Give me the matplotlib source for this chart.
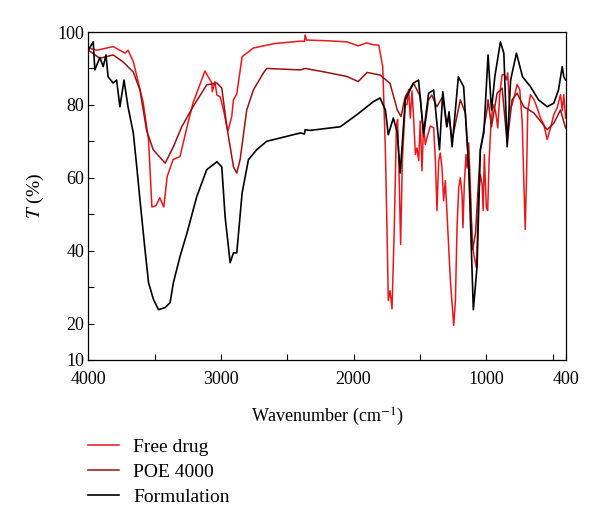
import matplotlib
matplotlib.use("Agg")
import matplotlib.pyplot as plt
import numpy as np

# FTIR spectra (wavenumber in cm-1, transmittance in %)
free_wn = [4000, 3935, 3812, 3722, 3700, 3660, 3585, 3545, 3520, 3490, 3460, 3430, 3405,
           3360, 3308, 3255, 3210, 3120, 3068, 3065, 3045, 3030, 3005, 2980, 2955, 2945,
           2918, 2905, 2880, 2840, 2755, 2600, 2400, 2370, 2365, 2355, 2200, 2050, 1965,
           1900, 1850, 1810, 1780, 1760, 1748, 1738, 1725, 1710, 1693, 1677, 1668, 1656,
           1645, 1632, 1610, 1597, 1585, 1572, 1559, 1547, 1534, 1522, 1509, 1497, 1484,
           1472, 1459, 1446, 1421, 1396, 1383, 1371, 1358, 1346, 1333, 1321, 1308, 1295,
           1270, 1245, 1232, 1220, 1207, 1195, 1182, 1175, 1165, 1152, 1144, 1132, 1119,
           1107, 1094, 1074, 1057, 1044, 1031, 1023, 1014, 999, 989, 978, 963, 948, 930,
           913, 898, 880, 863, 847, 838, 823, 805, 785, 767, 747, 729, 717, 706, 696, 687,
           666, 641, 616, 591, 566, 540, 515, 490, 465, 440, 427, 415, 402]
free_t = [95.6, 95.0, 96.0, 94.2, 95.0, 91.9, 80.5, 70.4, 52.0, 52.3, 54.5, 52.0, 60.3,
          65.0, 65.8, 74.0, 80.5, 89.3, 86.0, 83.6, 86.4, 82.7, 82.2, 78.6, 74.0, 73.0,
          76.8, 81.4, 83.0, 93.2, 95.6, 96.8, 97.5, 97.4, 99.2, 97.8, 97.6, 97.3, 96.2,
          97.0, 96.5, 96.4, 90.5, 67.7, 46.3, 26.3, 29.0, 24.0, 46.0, 73.7, 76.0, 60.0,
          41.7, 64.7, 80.1, 80.1, 84.2, 76.4, 83.8, 76.4, 66.4, 68.2, 64.7, 75.6, 61.9,
          74.6, 69.1, 71.0, 74.2, 73.7, 64.7, 51.0, 64.7, 66.8, 62.7, 53.7, 59.2, 50.0,
          31.8, 19.5, 26.3, 46.3, 57.3, 60.0, 55.4, 46.3, 58.2, 66.4, 62.7, 69.6, 57.3,
          42.7, 39.0, 35.3, 55.4, 60.9, 58.2, 51.0, 66.4, 51.8, 51.0, 64.7, 75.6, 80.1, 78.4,
          73.7, 82.8, 88.3, 88.3, 86.9, 88.8, 78.4, 80.1, 82.8, 85.6, 84.2, 75.6, 60.0, 45.8,
          60.0, 78.4, 82.8, 81.5, 79.2, 76.4, 74.6, 70.5, 73.7, 77.4, 79.2, 82.8, 78.4, 82.8,
          76.4]

poe_wn = [4000, 3912, 3812, 3737, 3660, 3610, 3560, 3510, 3420, 3358, 3295, 3210, 3107,
          3030, 2993, 2955, 2905, 2880, 2855, 2805, 2755, 2680, 2655, 2400, 2365, 2228,
          2050, 1965, 1897, 1800, 1725, 1670, 1642, 1610, 1548, 1497, 1472, 1435, 1410,
          1372, 1327, 1297, 1280, 1257, 1195, 1157, 1132, 1102, 1080, 1044, 994, 986, 960,
          918, 880, 842, 805, 767, 717, 641, 540, 490, 440, 402]
poe_t = [95.0, 92.8, 93.7, 91.8, 89.0, 84.1, 73.0, 67.7, 64.0, 68.5, 74.0, 79.5, 85.5,
         86.0, 84.6, 74.0, 63.0, 61.3, 65.0, 78.6, 84.1, 88.7, 90.0, 89.6, 90.0, 89.1,
         87.8, 86.4, 88.9, 88.2, 85.9, 78.6, 76.8, 82.3, 86.0, 82.3, 71.3, 81.4, 82.7,
         79.5, 82.3, 74.0, 76.8, 70.4, 81.4, 77.8, 64.0, 40.3, 45.0, 67.7, 78.6, 81.4, 74.0,
         83.2, 84.6, 69.6, 81.4, 83.2, 79.5, 77.8, 73.2, 75.0, 78.6, 73.7]

form_wn = [4000, 3962, 3950, 3912, 3887, 3866, 3850, 3812, 3786, 3761, 3730, 3700, 3660,
           3634, 3610, 3572, 3545, 3508, 3470, 3420, 3383, 3358, 3308, 3255, 3182, 3107,
           3030, 2993, 2968, 2930, 2905, 2880, 2840, 2792, 2730, 2655, 2400, 2370, 2365,
           2327, 2100, 1975, 1850, 1800, 1760, 1738, 1700, 1670, 1648, 1610, 1548, 1510,
           1472, 1434, 1396, 1352, 1327, 1297, 1280, 1257, 1210, 1170, 1132, 1097, 1069,
           1044, 1018, 986, 960, 935, 893, 867, 842, 816, 772, 726, 666, 606, 540, 490, 455,
           427, 415, 402]
form_t = [95.0, 97.3, 89.6, 93.0, 90.5, 93.7, 87.7, 86.0, 86.8, 79.5, 86.8, 79.5, 72.3,
          63.0, 54.0, 40.3, 31.2, 26.6, 23.8, 24.4, 25.7, 31.2, 38.4, 44.9, 54.8, 62.2,
          64.4, 63.0, 49.3, 36.7, 39.4, 39.4, 55.8, 65.0, 67.7, 70.0, 72.3, 72.0, 73.2,
          73.0, 74.0, 77.3, 80.9, 81.9, 78.6, 71.8, 76.4, 72.3, 61.3, 81.4, 86.0, 86.8,
          72.3, 83.2, 84.1, 67.7, 83.6, 74.0, 78.1, 68.5, 87.7, 85.0, 63.0, 23.8, 35.6,
          67.7, 72.3, 93.7, 78.6, 87.7, 97.3, 94.2, 68.5, 86.8, 94.2, 87.7, 85.0, 81.4,
          79.5, 80.5, 84.1, 90.5, 87.7, 86.8]

y_ticks = [10, 20, 30, 40, 50, 60, 70, 80, 90, 100]
y_labels = ['10', '20', '', '40', '', '60', '', '80', '', '100']
x_ticks = [4000, 3500, 3000, 2500, 2000, 1500, 1000, 500, 400]
x_labels = ['4000', '', '3000', '', '2000', '', '1000', '', '400']

plt.rcParams.update({
    'font.family': ['Liberation Serif', 'DejaVu Serif'],
    'mathtext.fontset': 'stix',
    'font.size': 13,
})

fig = plt.figure(figsize=(6.0, 5.29), dpi=100)
ax = fig.add_axes([0.147, 0.3195, 0.796, 0.62])

ax.plot(free_wn, free_t, color='#e8171c', lw=1.1, label='Free drug')
ax.plot(poe_wn, poe_t, color='#9a1010', lw=1.1, label='POE 4000')
ax.plot(form_wn, form_t, color='#000000', lw=1.2, label='Formulation')

ax.set_xlim(4000, 400)
ax.set_ylim(10, 100)
ax.set_xticks(x_ticks)
ax.set_xticklabels(x_labels)
ax.set_yticks(y_ticks)
ax.set_yticklabels(y_labels)
ax.tick_params(direction='in', length=4, width=0.8, labelsize=13)
ax.tick_params(axis='x', pad=8)
ax.tick_params(axis='y', pad=3)
for s in ax.spines.values():
    s.set_linewidth(0.9)

ax.set_xlabel('Wavenumber (cm$^{-1}$)', fontsize=13, labelpad=13)
ax.set_ylabel('$T$ (%)', fontsize=14, labelpad=8)

fig.legend(loc='upper left', bbox_to_anchor=(0.147, 0.171), frameon=False,
           fontsize=14, handlelength=1.6, handletextpad=0.72, labelspacing=0.38,
           borderpad=0, borderaxespad=0)

plt.savefig('out.png', dpi=100)
